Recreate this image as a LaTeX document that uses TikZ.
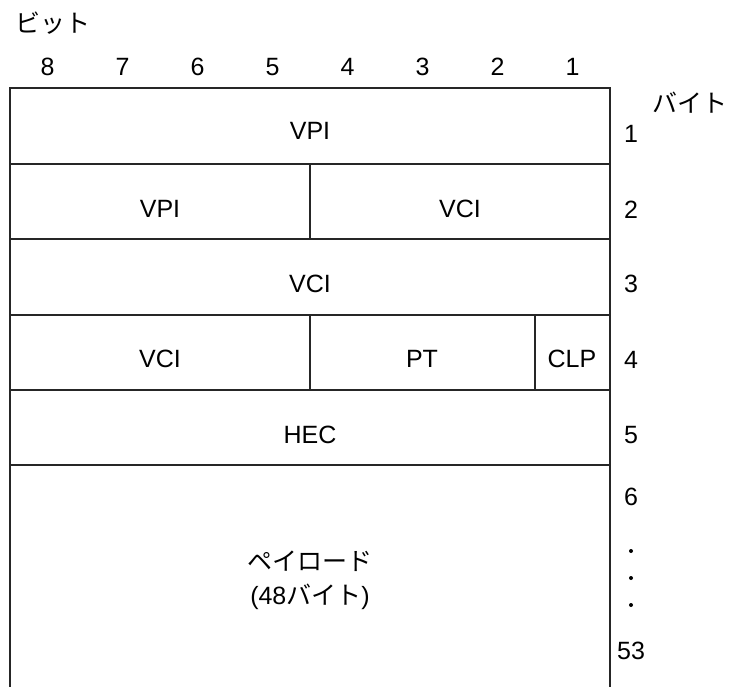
\documentclass[tikz,border=0pt]{standalone}
\usepackage{fontspec}
\setmainfont{Liberation Sans}
\newfontfamily\jp{Noto Sans CJK JP}
\begin{document}
\begin{tikzpicture}[x=1pt,y=-1pt,
  grid/.style={line width=1.6pt,draw=black!85},
  lbl/.style={inner sep=0pt,font=\fontsize{25}{29}\selectfont},
  jlbl/.style={inner sep=0pt,font=\fontsize{25}{29}\selectfont\jp}]
\useasboundingbox (0,0) rectangle (733,687);
% frame
\coordinate (tl) at (10,88);
\coordinate (tr) at (610,88);
\coordinate (bl) at (10,687);
\coordinate (br) at (610,687);
\draw[grid] (bl) -- (tl) -- (tr) -- (br);
\foreach \y in {164,239,315,390,465}{\draw[grid] (10,\y) -- (610,\y);}
\draw[grid] (310,164) -- (310,239);
\draw[grid] (310,315) -- (310,390);
\draw[grid] (535,315) -- (535,390);
% headings
\node[jlbl] (bit) at (53,23) {ビット};
\node[jlbl] (byte) at (690,103) {バイト};
\foreach \n [count=\i] in {8,7,6,5,4,3,2,1}{
  \node[lbl] (b\n) at ({10+75*(\i-1)+37.5},67) {\n};
}
% cells
\node[lbl] (vpi1) at (310,131) {VPI};
\node[lbl] (vpi2) at (160,209) {VPI};
\node[lbl] (vci2) at (460,209) {VCI};
\node[lbl] (vci3) at (310,284) {VCI};
\node[lbl] (vci4) at (160,359) {VCI};
\node[lbl] (pt) at (422,359) {PT};
\node[lbl] (clp) at (572,359) {CLP};
\node[lbl] (hec) at (310,435) {HEC};
\node[jlbl] (pay) at (310,561) {ペイロード};
\node[lbl] (pay2) at (310,597) {(48{\jp バイト})};
% byte numbers
\node[lbl] (n1) at (631,134) {1};
\node[lbl] (n2) at (631,210) {2};
\node[lbl] (n3) at (631,284) {3};
\node[lbl] (n4) at (631,360) {4};
\node[lbl] (n5) at (631,435) {5};
\node[lbl] (n6) at (631,497) {6};
\foreach \y [count=\k] in {551,578,605}{\fill (631,\y) circle (2pt) coordinate (d\k);}
\node[lbl] (n53) at (631,651) {53};
\end{tikzpicture}
\end{document}
